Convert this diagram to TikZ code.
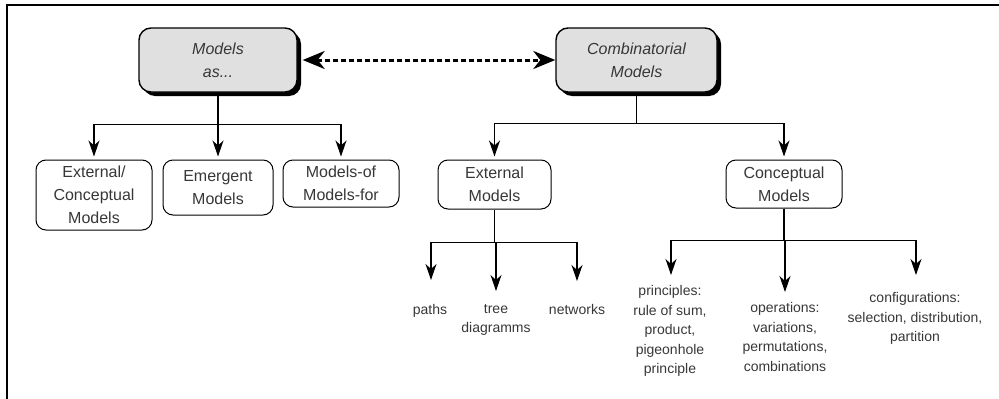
\documentclass[tikz,border=0pt]{standalone}
\usepackage{fontspec}
\setmainfont{Liberation Sans}
\usetikzlibrary{arrows.meta,shadows}

\definecolor{boxgray}{RGB}{224,224,224}
\definecolor{txtgray}{RGB}{55,55,55}

\tikzstyle{topbox} = [draw, line width=1.4pt, rounded corners=12pt, fill=boxgray, minimum width=158pt, minimum height=64pt, align=center, text=txtgray, font=\fontsize{16}{23}\selectfont\itshape, drop shadow={shadow xshift=4pt, shadow yshift=-4pt, fill=black, opacity=1}]
\tikzstyle{bag} = [draw, line width=1pt, rounded corners=10pt, align=center, text=txtgray, font=\fontsize{16}{23}\selectfont]
\tikzstyle{leaf} = [align=center, text=txtgray, font=\fontsize{14}{19.5}\selectfont]
\tikzstyle{link} = [line width=1.2pt]
\tikzstyle{arr} = [link, -{Stealth[length=16pt,width=11pt,inset=5pt]}]
\tikzstyle{dotarr} = [line width=3pt, dash pattern=on 5pt off 3pt, {Stealth[length=22pt,width=18pt,inset=7pt]}-{Stealth[length=22pt,width=18pt,inset=7pt]}]

\begin{document}
\begin{tikzpicture}[x=1pt, y=-1pt]
	\useasboundingbox (0,0) rectangle (999,399);
	\draw[line width=2pt] (6.5,399) -- (6.5,5) -- (999,5);

	\node[topbox] (modelsas) at (218,60) {Models\\as...};
	\node[topbox, minimum width=161pt] (comb) at (636.5,60) {Combinatorial\\Models};
	\draw[dotarr, shorten <=5pt] (modelsas) -- (comb);

	\node[bag, minimum width=116pt, minimum height=70pt] (extconc) at (94,195) {External/\\Conceptual\\Models};
	\node[bag, minimum width=110pt, minimum height=55pt] (emergent) at (218,187.5) {Emergent\\Models};
	\node[bag, minimum width=116pt, minimum height=47pt] (modelsof) at (341,183.5) {Models-of\\Models-for};
	\node[bag, minimum width=113pt, minimum height=49pt] (extmod) at (494.5,184.5) {External\\Models};
	\node[bag, minimum width=116pt, minimum height=48pt] (concmod) at (784,184) {Conceptual\\Models};

	\draw[link] (modelsas.south) -- ++(0,32) coordinate (mabar);
	\draw[arr, shorten >=3pt] (mabar) -| (extconc.north);
	\draw[arr, shorten >=3pt] (mabar) -| (emergent.north);
	\draw[arr, shorten >=3pt] (mabar) -| (modelsof.north);

	\draw[link] (comb.south) -- ++(0,31) coordinate (cmbar);
	\draw[arr, shorten >=3pt] (cmbar) -| (extmod.north);
	\draw[arr, shorten >=3pt] (cmbar) -| (concmod.north);

	\node[leaf] (paths) at (430,311) {paths};
	\node[leaf] (tree) at (496,320) {tree\\diagramms};
	\node[leaf] (networks) at (577,309) {networks};
	\coordinate (pathstip) at (431,280);
	\coordinate (treetip) at (496,291);
	\coordinate (networkstip) at (577,281);

	\draw[link] (extmod.south) -- ++(0,33) coordinate (embar);
	\draw[arr] (embar) -| (pathstip);
	\draw[arr] (embar) -| (treetip);
	\draw[arr] (embar) -| (networkstip);

	\node[leaf] (principles) at (670,331) {principles:\\rule of sum,\\product,\\pigeonhole\\principle};
	\node[leaf] (operations) at (785,337) {operations:\\variations,\\permutations,\\combinations};
	\node[leaf] (configs) at (915,318.5) {configurations:\\selection, distribution,\\partition};
	\coordinate (principlestip) at (671,275);
	\coordinate (operationstip) at (785,292);
	\coordinate (configstip) at (916,275);

	\draw[link] (concmod.south) -- ++(0,32) coordinate (cobar);
	\draw[arr] (cobar) -| (principlestip);
	\draw[arr] (cobar) -| (operationstip);
	\draw[arr] (cobar) -| (configstip);
\end{tikzpicture}
\end{document}
